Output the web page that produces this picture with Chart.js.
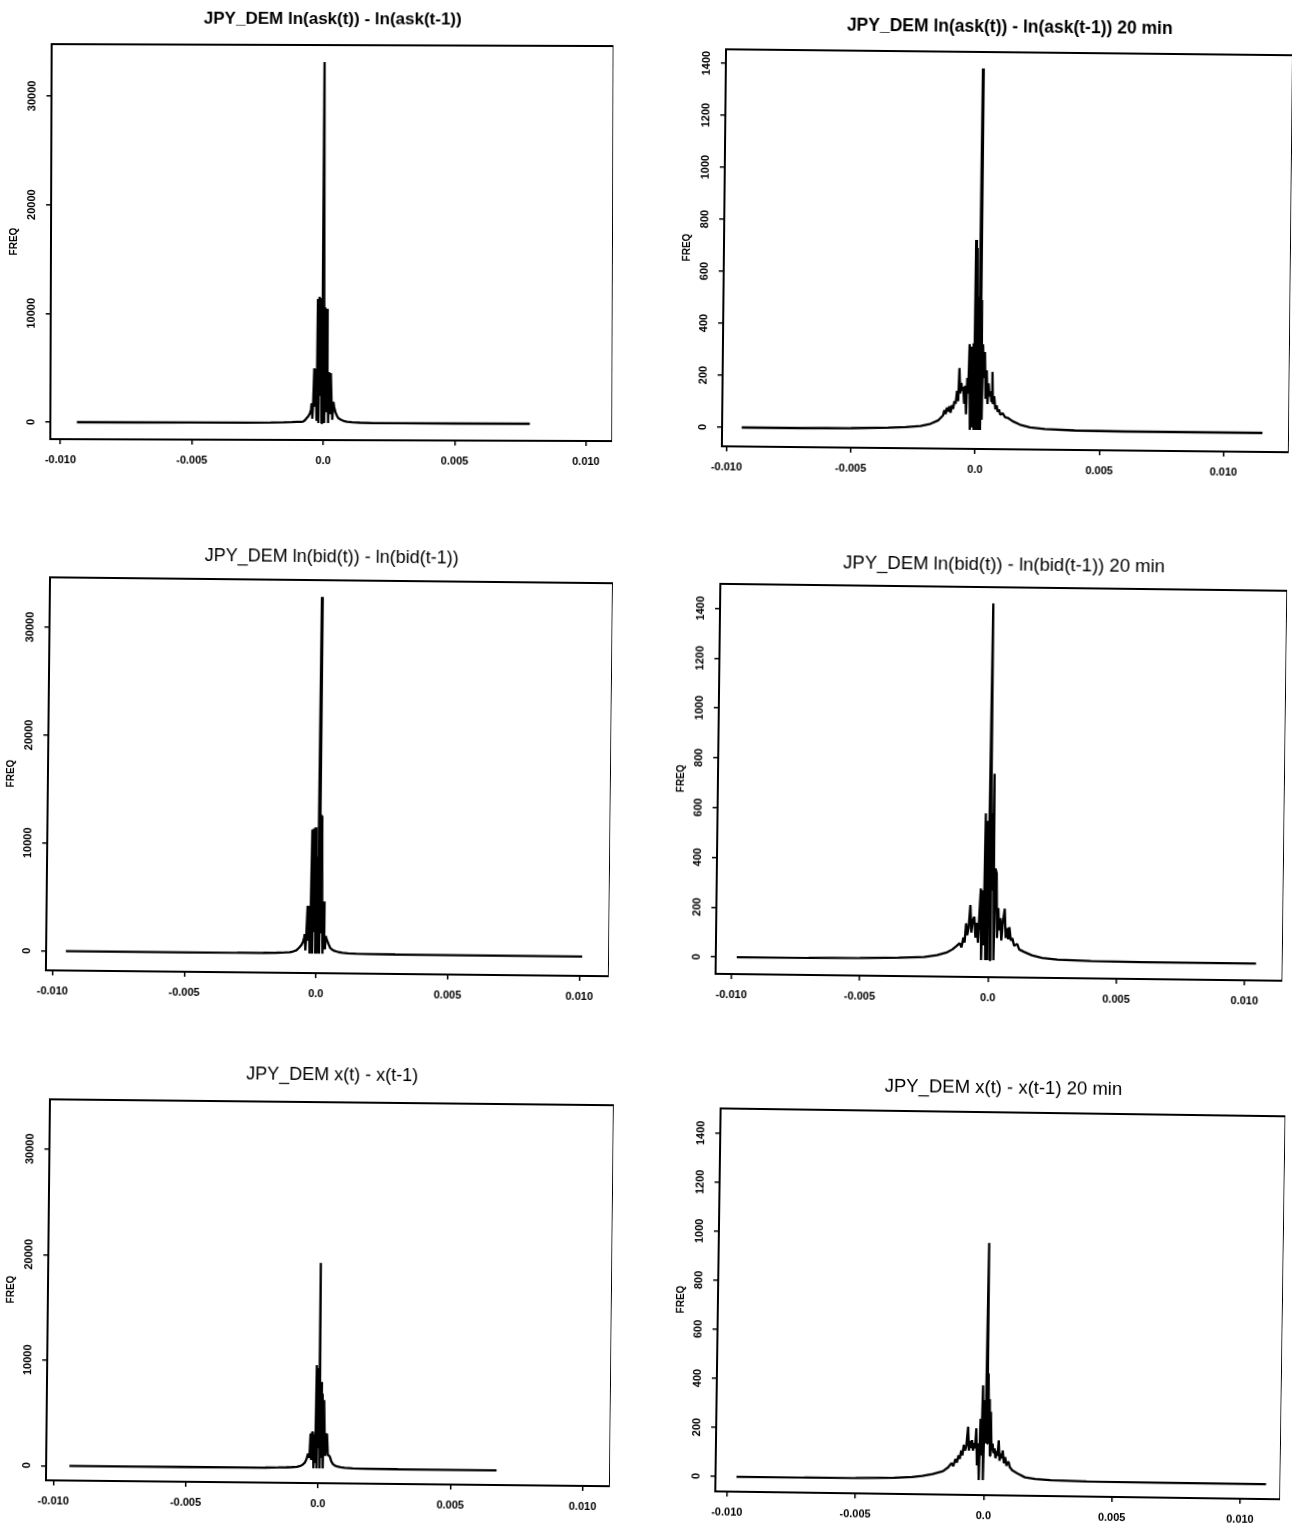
<!DOCTYPE html>
<html>
<head>
<meta charset="utf-8">
<title>JPY_DEM return frequencies</title>
<script src="https://cdn.jsdelivr.net/npm/chart.js@4.4.1/dist/chart.umd.min.js"></script>
<style>
  html, body { margin: 0; padding: 0; background: #fff; }
  body { position: relative; width: 1292px; height: 1526px; overflow: hidden; }
  canvas { position: absolute; }
</style>
</head>
<body>
<script>
// shared axis ticks
const xTickValues = [-0.010, -0.005, 0.0, 0.005, 0.010];
const xTickLabels = ["-0.010", "-0.005", "0.0", "0.005", "0.010"];
const tickFreqTicks = [0, 10000, 20000, 30000];
const min20FreqTicks = [0, 200, 400, 600, 800, 1000, 1200, 1400];

const titles = [
  "JPY_DEM ln(ask(t)) - ln(ask(t-1))",
  "JPY_DEM ln(ask(t)) - ln(ask(t-1)) 20 min",
  "JPY_DEM ln(bid(t)) - ln(bid(t-1))",
  "JPY_DEM ln(bid(t)) - ln(bid(t-1)) 20 min",
  "JPY_DEM x(t) - x(t-1)",
  "JPY_DEM x(t) - x(t-1) 20 min"
];

// ln(ask) tick-by-tick
const askTickX = [-0.00938, -0.0070, -0.0050, -0.0030, -0.0020, -0.0015, -0.0012, -0.0010, -0.00085, -0.00077,
  -0.00070, -0.00064, -0.00058, -0.00052, -0.00047, -0.00045, -0.00042, -0.00039, -0.00035, -0.00032,
  -0.00029, -0.00026, -0.00022, -0.00019, -0.00016, -0.00013, -0.00010, -0.00007, -0.00004, 0.0,
  0.00003, 0.00006, 0.00009, 0.00012, 0.00015, 0.00018, 0.00021, 0.00024, 0.00028, 0.00031,
  0.00034, 0.00038, 0.00041, 0.00046, 0.00052, 0.00058, 0.00068, 0.00077, 0.0009, 0.0011,
  0.0014, 0.0019, 0.0030, 0.0050, 0.00786];
const askTickFreq = [0, 0, 4, 12, 30, 55, 80, 100, 110, 120,
  250, 430, 600, 850, 1200, 1810, 400, 1800, 5030, 1500,
  5000, 200, 11400, 0, 11620, 2500, 11500, 0, 9500, 33200,
  0, 10640, 1000, 10500, 4720, 0, 4700, 800, 4600, 1960,
  300, 1960, 1500, 1000, 650, 430, 300, 200, 130, 80,
  45, 20, 6, 0, 0];

// ln(ask) 20 min
const ask20X = [-0.0094, -0.0070, -0.0050, -0.0035, -0.0028, -0.0022, -0.0018, -0.0015, -0.0013, -0.00125,
  -0.0012, -0.00115, -0.0011, -0.00105, -0.0010, -0.00095, -0.0009, -0.00085, -0.0008, -0.00075,
  -0.0007, -0.00066, -0.00062, -0.00058, -0.00054, -0.0005, -0.00046, -0.00042, -0.00038, -0.00034,
  -0.0003, -0.00026, -0.00022, -0.00018, -0.00014, -0.0001, -0.00007, -0.00004, -0.00001, 0.00002,
  0.00005, 0.00008, 0.00011, 0.00016, 0.00019, 0.00022, 0.00025, 0.00028, 0.00032, 0.00036,
  0.0004, 0.00044, 0.00048, 0.00052, 0.00056, 0.0006, 0.00064, 0.00067, 0.0007, 0.00075,
  0.0008, 0.00085, 0.0009, 0.00095, 0.0010, 0.0011, 0.0012, 0.0013, 0.0015, 0.0018,
  0.0022, 0.0028, 0.0040, 0.0060, 0.0090, 0.01156];
const ask20Freq = [0, 0, 2, 5, 8, 13, 22, 35, 55, 75,
  60, 85, 70, 90, 65, 95, 80, 110, 100, 150,
  110, 237, 140, 180, 150, 165, 100, 170, 60, 200,
  140, 330, 0, 320, 10, 333, 0, 731, 0, 700,
  0, 513, 0, 1391, 0, 500, 40, 330, 200, 300,
  120, 230, 100, 180, 130, 150, 110, 224, 100, 130,
  80, 95, 70, 80, 60, 65, 50, 48, 35, 22,
  12, 6, 2, 0, 0, 0];

// ln(bid) tick-by-tick
const bidTickX = [-0.0095, -0.0070, -0.0050, -0.0030, -0.0020, -0.0015, -0.0012, -0.0010, -0.00087, -0.00075,
  -0.00064, -0.00056, -0.00050, -0.00046, -0.00044, -0.00041, -0.00038, -0.00034, -0.00031, -0.00028,
  -0.00025, -0.00022, -0.00019, -0.00016, -0.00013, -0.00010, -0.00007, -0.00004, -0.00001, 0.00002,
  0.00005, 0.00008, 0.00011, 0.00013, 0.00016, 0.00018, 0.00021, 0.00024, 0.00027, 0.00030,
  0.00033, 0.00036, 0.00040, 0.00047, 0.00053, 0.00060, 0.00070, 0.00085, 0.0010, 0.0012,
  0.0015, 0.0020, 0.0030, 0.0060, 0.0101];
const bidTickFreq = [0, 0, 4, 12, 30, 55, 85, 120, 190, 300,
  560, 800, 1100, 1500, 1800, 300, 1750, 4430, 1200, 4400,
  0, 4300, 11500, 0, 11600, 2000, 11710, 0, 9000, 0,
  5000, 33090, 0, 12950, 2000, 12800, 4900, 0, 4850, 1650,
  400, 1650, 1300, 900, 560, 400, 270, 170, 110, 70,
  40, 18, 7, 0, 0];

// ln(bid) 20 min
const bid20X = [-0.0098, -0.0070, -0.0050, -0.0035, -0.0025, -0.0020, -0.0016, -0.0014, -0.00125, -0.00112,
  -0.00105, -0.00098, -0.00093, -0.00088, -0.00083, -0.00078, -0.00072, -0.00067, -0.00062, -0.00056,
  -0.00051, -0.00046, -0.00041, -0.00036, -0.00032, -0.00028, -0.00024, -0.0002, -0.00016, -0.00012,
  -0.00008, -0.00004, 0.00003, 0.00006, 0.00008, 0.00012, 0.00016, 0.0002, 0.00024, 0.00029,
  0.00033, 0.00037, 0.00041, 0.00046, 0.0005, 0.00055, 0.00062, 0.00067, 0.00072, 0.00077,
  0.00081, 0.00087, 0.00093, 0.0010, 0.00112, 0.0012, 0.0014, 0.0017, 0.0021, 0.0027,
  0.0040, 0.0060, 0.01044];
const bid20Freq = [0, 1, 3, 6, 10, 18, 30, 42, 55, 67,
  50, 90, 70, 147, 100, 130, 221, 110, 160, 174,
  90, 150, 70, 200, 288, 0, 280, 60, 590, 0,
  560, 0, 1434, 0, 590, 280, 750, 0, 369, 350,
  90, 210, 120, 170, 80, 150, 208, 90, 130, 85,
  134, 80, 90, 60, 67, 45, 35, 22, 12, 6,
  2, 0, 0];

// x = mid price, tick-by-tick
const midTickX = [-0.0094, -0.0070, -0.0050, -0.0030, -0.0020, -0.0015, -0.0012, -0.0010, -0.0008, -0.0007,
  -0.0006, -0.0005, -0.00044, -0.00039, -0.00036, -0.00033, -0.00030, -0.00027, -0.00024, -0.00021,
  -0.00018, -0.00015, -0.00012, -0.00009, -0.00006, -0.00003, 0.0, 0.00002, 0.00005, 0.00008,
  0.00011, 0.00014, 0.00017, 0.00020, 0.00023, 0.00026, 0.00029, 0.00032, 0.00036, 0.00040,
  0.00044, 0.00049, 0.00055, 0.00062, 0.00072, 0.00085, 0.0010, 0.0013, 0.0018, 0.0030,
  0.0050, 0.00674];
const midTickFreq = [0, 0, 4, 12, 30, 55, 75, 100, 130, 200,
  310, 560, 900, 1400, 1000, 1400, 3300, 800, 3450, 3400,
  0, 3200, 500, 9800, 0, 9500, 2000, 19490, 0, 8200,
  1000, 7100, 0, 6500, 3300, 1200, 3200, 3300, 1250, 1250,
  1100, 700, 450, 300, 200, 130, 90, 50, 22, 7,
  0, 0];

// x = mid price, 20 min
const mid20X = [-0.00964, -0.0070, -0.0050, -0.0035, -0.0028, -0.0024, -0.0020, -0.0016, -0.0014, -0.00127,
  -0.0012, -0.00112, -0.00106, -0.0010, -0.00095, -0.0009, -0.00085, -0.0008, -0.00075, -0.0007,
  -0.00064, -0.0006, -0.00056, -0.00052, -0.00048, -0.00044, -0.0004, -0.00036, -0.00032, -0.00028,
  -0.00024, -0.0002, -0.00016, -0.00012, -0.00008, -0.00004, 0.0, 0.00004, 0.00008, 0.00011,
  0.00013, 0.00016, 0.00019, 0.00022, 0.00024, 0.00028, 0.00032, 0.00036, 0.0004, 0.00044,
  0.00048, 0.00052, 0.00056, 0.0006, 0.00064, 0.00068, 0.00072, 0.00077, 0.00082, 0.00087,
  0.00092, 0.00096, 0.0010, 0.0011, 0.0013, 0.0016, 0.0020, 0.0026, 0.0040, 0.0070,
  0.0110];
const mid20Freq = [0, 1, 2, 5, 9, 14, 22, 34, 50, 68,
  55, 85, 70, 100, 85, 120, 100, 143, 120, 140,
  217, 120, 160, 130, 163, 120, 150, 130, 211, 60,
  150, 0, 250, 100, 387, 0, 326, 150, 968, 150,
  435, 250, 330, 100, 279, 120, 150, 110, 130, 90,
  120, 100, 163, 80, 110, 90, 122, 70, 95, 60,
  75, 75, 55, 42, 30, 14, 8, 4, 1, 0,
  0];

// page placement of each plot frame: [left, top, right, bottom]
const panels = [
  { title: titles[0], xs: askTickX, ys: askTickFreq, yTicks: tickFreqTicks, titleFont: { size: 17, weight: "bold" },
    box: [51, 45, 605, 440], xMin: -0.01039, xMax: 0.0110, yMin: -1564, yMax: 34775, titleGap: 26, tilt: 0.2 },
  { title: titles[1], xs: ask20X, ys: ask20Freq, yTicks: min20FreqTicks, titleFont: { size: 17.5, weight: "bold" },
    box: [724, 52, 1283, 449], xMin: -0.01019, xMax: 0.01263, yMin: -73, yMax: 1454, titleGap: 25, tilt: 0.6 },
  { title: titles[2], xs: bidTickX, ys: bidTickFreq, yTicks: tickFreqTicks, titleFont: { size: 18, weight: "normal" },
    box: [48, 580, 603, 973], xMin: -0.01025, xMax: 0.01112, yMin: -1800, yMax: 34640, titleGap: 23, tilt: 0.6 },
  { title: titles[3], xs: bid20X, ys: bid20Freq, yTicks: min20FreqTicks, titleFont: { size: 18.5, weight: "normal" },
    box: [718, 587, 1277, 977], xMin: -0.01062, xMax: 0.01148, yMin: -68, yMax: 1499, titleGap: 22, tilt: 0.7 },
  { title: titles[4], xs: midTickX, ys: midTickFreq, yTicks: tickFreqTicks, titleFont: { size: 18, weight: "normal" },
    box: [48, 1102, 604, 1483], xMin: -0.01028, xMax: 0.01103, yMin: -1393, yMax: 34720, titleGap: 27, tilt: 0.6 },
  { title: titles[5], xs: mid20X, ys: mid20Freq, yTicks: min20FreqTicks, titleFont: { size: 18.5, weight: "normal" },
    box: [718, 1112, 1275, 1495], xMin: -0.01046, xMax: 0.01156, yMin: -61, yMax: 1501, titleGap: 24, tilt: 0.8 }
];

Chart.defaults.font.family = "'Liberation Sans', Arial, sans-serif";
Chart.defaults.color = "#000";

// closes the box around the plot region
const frameBox = {
  id: "frameBox",
  afterDraw(chart) {
    const { ctx, chartArea: a } = chart;
    ctx.save();
    ctx.strokeStyle = "#000";
    ctx.lineWidth = 2;
    ctx.strokeRect(a.left, a.top, a.right - a.left, a.bottom - a.top);
    ctx.restore();
  }
};

const L = 51, T = 45, R = 8, B = 34;
const tickFont = { size: 11, weight: "bold" };
const measure = document.createElement("canvas").getContext("2d");
measure.font = "bold 11px 'Liberation Sans'";

panels.forEach(p => {
  const [x0, y0, x1, y1] = p.box;
  const canvas = document.createElement("canvas");
  canvas.width = x1 - x0 + L + R;
  canvas.height = y1 - y0 + T + B;
  canvas.style.left = (x0 - L) + "px";
  canvas.style.top = (y0 - T) + "px";
  canvas.style.transform = "rotate(" + p.tilt + "deg)";
  document.body.appendChild(canvas);

  const points = p.xs.map((x, i) => ({ x: x, y: p.ys[i] }));
  const widest = Math.max(...p.yTicks.map(v => measure.measureText(String(v)).width));
  const lineH = p.titleFont.size * 1.2;
  const gridOpts = { drawOnChartArea: false, drawTicks: true, tickLength: 5, color: "#000", lineWidth: 1.5 };
  const borderOpts = { display: true, color: "#000", width: 2 };

  new Chart(canvas.getContext("2d"), {
    type: "scatter",
    data: {
      datasets: [{
        data: points,
        showLine: true,
        borderColor: "#000",
        borderWidth: 2.3,
        borderJoinStyle: "bevel",
        pointRadius: 0,
        fill: false
      }]
    },
    options: {
      responsive: false,
      animation: false,
      devicePixelRatio: 1,
      layout: { padding: 0 },
      plugins: {
        legend: { display: false },
        tooltip: { enabled: false },
        title: {
          display: true,
          text: p.title,
          fullSize: false,
          color: "#000",
          font: p.titleFont,
          padding: { top: T - lineH / 2 - p.titleGap, bottom: p.titleGap - lineH / 2 }
        }
      },
      scales: {
        x: {
          type: "linear",
          min: p.xMin,
          max: p.xMax,
          afterBuildTicks: s => { s.ticks = xTickValues.map(v => ({ value: v })); },
          afterFit: s => { s.height = B; },
          ticks: {
            callback: (v, i) => xTickLabels[i],
            maxRotation: 0,
            minRotation: 0,
            padding: 9,
            font: tickFont
          },
          grid: gridOpts,
          border: borderOpts
        },
        y: {
          type: "linear",
          min: p.yMin,
          max: p.yMax,
          afterBuildTicks: s => { s.ticks = p.yTicks.map(v => ({ value: v })); },
          afterFit: s => { s.width = L; },
          ticks: {
            callback: v => String(v),
            minRotation: 90,
            maxRotation: 90,
            crossAlign: "center",
            padding: 14 - widest / 2,
            font: tickFont
          },
          grid: gridOpts,
          border: borderOpts,
          title: {
            display: true,
            text: "FREQ",
            font: { size: 10, weight: "bold" },
            padding: { top: 8, bottom: 0 }
          }
        }
      }
    },
    plugins: [frameBox]
  });
});
</script>
</body>
</html>
